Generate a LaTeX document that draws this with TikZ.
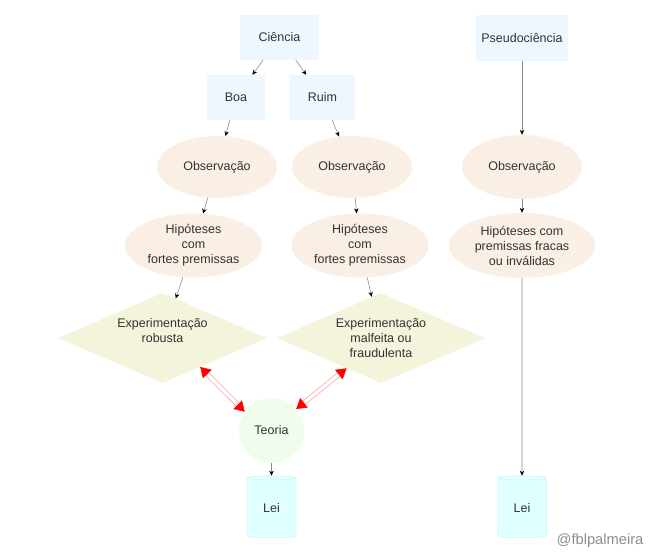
\documentclass[tikz,border=0pt]{standalone}
\usepackage{fontspec}
\setmainfont{Liberation Sans}
\usetikzlibrary{shapes.geometric,arrows.meta,calc}
\definecolor{txt}{RGB}{51,51,51}
\definecolor{boxfill}{RGB}{238,246,254}
\definecolor{obsfill}{RGB}{250,239,229}
\definecolor{expfill}{RGB}{244,244,220}
\definecolor{teofill}{RGB}{240,252,236}
\definecolor{leifill}{RGB}{224,255,255}
\definecolor{leiline}{RGB}{200,240,244}
\tikzset{
  every node/.style={text=txt, font=\fontsize{12.5}{15}\selectfont, align=center, inner sep=0pt},
  boxnode/.style={rectangle, fill=boxfill, minimum height=45pt},
  obsnode/.style={ellipse, fill=obsfill, minimum width=120pt, minimum height=62pt},
  hipnode/.style={ellipse, fill=obsfill, minimum width=137pt, minimum height=64pt},
  expnode/.style={diamond, fill=expfill, aspect=2.3, minimum width=209pt, minimum height=90pt},
  teonode/.style={circle, fill=teofill, minimum size=65pt},
  leinode/.style={cylinder, shape border rotate=90, aspect=0.25, draw=leiline, fill=leifill,
    cylinder uses custom fill, cylinder body fill=leifill, cylinder end fill=leifill,
    minimum width=49pt, minimum height=62pt},
  flow/.style={draw=black!45, line width=0.6pt, -{Stealth[black, length=5pt, width=4.5pt]}},
  link/.style={draw=red!45, line width=0.6pt, double=white, double distance=3.5pt,
    {Triangle[red, length=10pt, width=12pt]}-{Triangle[red, length=10pt, width=12pt]}}
}
\begin{document}
\begin{tikzpicture}[x=1pt,y=-1pt]
      \useasboundingbox (0,0) rectangle (651,553);
      \draw
        (279.5,37.5) node[boxnode, minimum width=79pt] (ciencia){Ciência}
        (522,38) node[boxnode, minimum width=92pt, minimum height=46pt] (pseudo){Pseudociência}
        (236,97.5) node[boxnode, minimum width=58pt] (boa){Boa}
        (322.5,97.5) node[boxnode, minimum width=65pt] (ruim){Ruim}
        (217,167) node[obsnode] (obsA){Observação}
        (352,167) node[obsnode] (obsB){Observação}
        (522,167) node[obsnode, minimum height=64pt] (obsC){Observação}
        (193.5,245.5) node[hipnode] (hipA){Hipóteses\\com\\fortes premissas}
        (360,245.5) node[hipnode] (hipB){Hipóteses\\com\\fortes premissas}
        (522,245.5) node[hipnode, minimum width=146pt, minimum height=65pt] (hipC){Hipóteses com\\premissas fracas\\ou inválidas}
        (162.5,338) node[expnode] (expA){Experimentação\\robusta\\\mbox{}}
        (381,338) node[expnode, minimum width=208pt] (expB){Experimentação\\malfeita ou\\fraudulenta}
        (271.5,430.5) node[teonode] (teoria){Teoria}
        (271.5,508) node[leinode] (leiA){Lei}
        (522,508) node[leinode] (leiB){Lei}
        (600,541) node[text=black!45, font=\fontsize{14.7}{16}\selectfont] (credit){@fblpalmeira};
      \begin{scope}[flow]
        \draw (ciencia) to (boa);
        \draw (ciencia) to (ruim);
        \draw (boa) to (obsA);
        \draw (ruim) to (obsB);
        \draw (obsA) to (hipA);
        \draw (obsB) to (hipB);
        \draw (hipA) to (expA);
        \draw (hipB) to (expB);
        \draw (teoria) to (leiA);
        \draw (pseudo) to (obsC);
        \draw (obsC) to (hipC);
        \draw (hipC) to (leiB);
      \end{scope}
      \draw[link] ($(expA.south)!0.36!(expA.east)$) to (teoria.145);
      \draw[link] ($(expB.south)!0.33!(expB.west)$) to (teoria.41);
    \end{tikzpicture}
\end{document}
